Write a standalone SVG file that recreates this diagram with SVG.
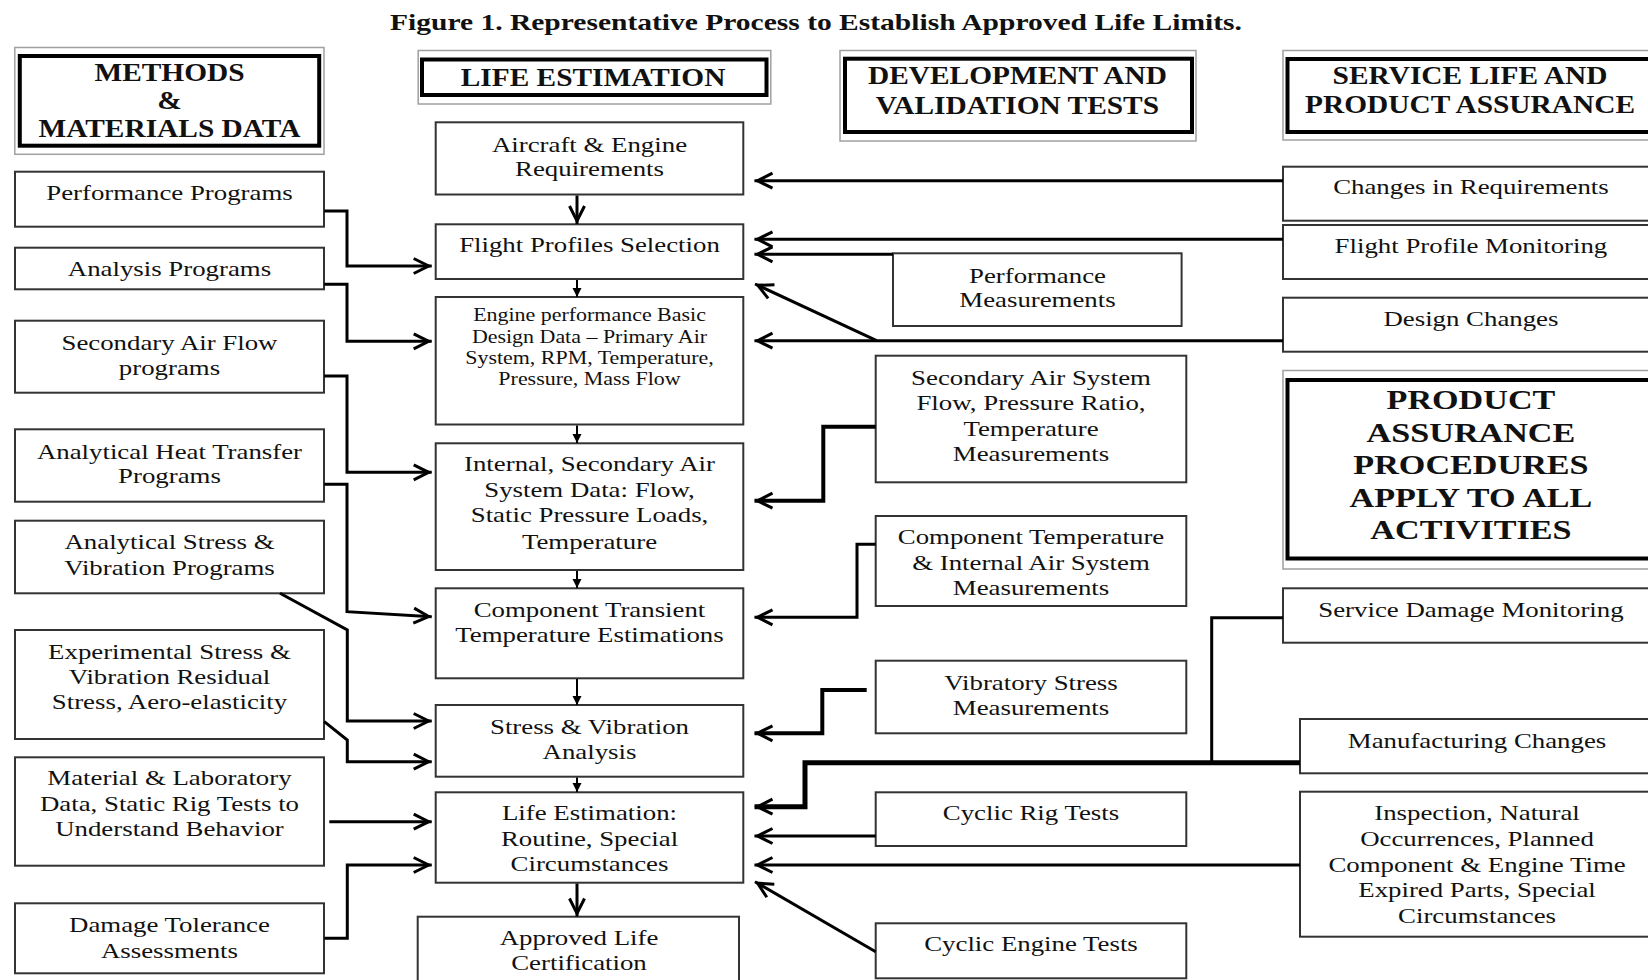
<svg xmlns="http://www.w3.org/2000/svg" width="1648" height="980" viewBox="0 0 1648 980">
<style>
.box{fill:#fff;stroke:#333;stroke-width:2}
.hout{fill:#fff;stroke:#a0a0a0;stroke-width:1.5}
.hin{fill:none;stroke:#000;stroke-width:4}
.c{fill:none;stroke:#000;stroke-width:3;stroke-linejoin:miter}
.c4{stroke-width:4}
.c5{stroke-width:5}
.d{fill:none;stroke:#000;stroke-width:2}
.t{font-family:"Liberation Serif","Times New Roman",serif;fill:#111;text-anchor:middle;transform-origin:0 0;transform-box:view-box}
.b22{font-size:22px;transform:scaleX(1.22)}
.s18{font-size:18px;transform:scaleX(1.22)}
.h26{font-size:26px;font-weight:bold;transform:scaleX(1.13)}
.p28{font-size:28px;font-weight:bold;transform:scaleX(1.22)}
.ti{font-size:24px;font-weight:bold;transform:scaleX(1.23)}
</style>
<defs>
<marker id="arr" markerUnits="userSpaceOnUse" viewBox="-22 -12 24 24" markerWidth="24" markerHeight="24" refX="0" refY="0" orient="auto" overflow="visible">
<path d="M-18,-7.5 L-3,0 L-18,7.5" fill="none" stroke="#000" stroke-width="3"/>
</marker>
<marker id="sm" markerUnits="userSpaceOnUse" viewBox="-10 -6 12 12" markerWidth="12" markerHeight="12" refX="0" refY="0" orient="auto" overflow="visible">
<path d="M-9,-4.5 L0,0 L-9,4.5 Z" fill="#000"/>
</marker>
</defs>
<rect x="0" y="0" width="1648" height="980" fill="#fff"/>

<text id="title" class="t ti" x="663.4" y="30">Figure 1. Representative Process to Establish Approved Life Limits.</text>

<!-- Headers -->
<g id="hdr-methods">
<rect class="hout" x="14.8" y="47.5" width="309.2" height="106.8"/>
<rect class="hin" x="19.8" y="56" width="299.4" height="89.7"/>
<text class="t h26" x="150" y="81.5">METHODS</text>
<text class="t h26" x="150" y="109.5">&amp;</text>
<text class="t h26" x="150" y="137.3">MATERIALS DATA</text>
</g>
<g id="hdr-life">
<rect class="hout" x="418.2" y="50.5" width="352.6" height="53.5"/>
<rect class="hin" x="422" y="59.5" width="344.5" height="35.5"/>
<text class="t h26" x="524.8" y="86">LIFE ESTIMATION</text>
</g>
<g id="hdr-dev">
<rect class="hout" x="840" y="50.5" width="356" height="90.5"/>
<rect class="hin" x="845" y="58.7" width="347" height="73.3"/>
<text class="t h26" x="900.4" y="84.3">DEVELOPMENT AND</text>
<text class="t h26" x="900.4" y="114">VALIDATION TESTS</text>
</g>
<g id="hdr-service">
<rect class="hout" x="1283" y="50.5" width="380" height="89.5"/>
<rect class="hin" x="1287.5" y="59" width="380" height="73"/>
<text class="t h26" x="1300.9" y="84.3">SERVICE LIFE AND</text>
<text class="t h26" x="1300.9" y="113.3">PRODUCT ASSURANCE</text>
</g>
<g id="product-assurance">
<rect class="hout" x="1283" y="370.5" width="380" height="198.5"/>
<rect class="hin" x="1287.5" y="380" width="380" height="178.5"/>
<text class="t p28" x="1205.7" y="409.3">PRODUCT</text>
<text class="t p28" x="1205.7" y="442">ASSURANCE</text>
<text class="t p28" x="1205.7" y="474.3">PROCEDURES</text>
<text class="t p28" x="1205.7" y="507">APPLY TO ALL</text>
<text class="t p28" x="1205.7" y="539.3">ACTIVITIES</text>
</g>

<!-- Left column -->
<g id="performance-programs">
<rect class="box" x="15" y="171.7" width="309" height="55"/>
<text class="t b22" x="138.93" y="200">Performance Programs</text>
</g>
<g id="analysis-programs">
<rect class="box" x="15" y="247.7" width="309" height="41.6"/>
<text class="t b22" x="138.93" y="276">Analysis Programs</text>
</g>
<g id="secondary-air-flow-programs">
<rect class="box" x="15" y="320.7" width="309" height="72"/>
<text class="t b22" x="138.93" y="350">Secondary Air Flow</text>
<text class="t b22" x="138.93" y="375.5">programs</text>
</g>
<g id="heat-transfer-programs">
<rect class="box" x="15" y="429.3" width="309" height="72.4"/>
<text class="t b22" x="138.93" y="459">Analytical Heat Transfer</text>
<text class="t b22" x="138.93" y="483">Programs</text>
</g>
<g id="stress-vibration-programs">
<rect class="box" x="15" y="520.7" width="309" height="72.6"/>
<text class="t b22" x="138.93" y="549">Analytical Stress &amp;</text>
<text class="t b22" x="138.93" y="575">Vibration Programs</text>
</g>
<g id="experimental-stress">
<rect class="box" x="15" y="630" width="309" height="109"/>
<text class="t b22" x="138.93" y="659">Experimental Stress &amp;</text>
<text class="t b22" x="138.93" y="684">Vibration Residual</text>
<text class="t b22" x="138.93" y="709">Stress, Aero-elasticity</text>
</g>
<g id="material-laboratory">
<rect class="box" x="15" y="757.3" width="309" height="108.4"/>
<text class="t b22" x="138.93" y="785">Material &amp; Laboratory</text>
<text class="t b22" x="138.93" y="811">Data, Static Rig Tests to</text>
<text class="t b22" x="138.93" y="836">Understand Behavior</text>
</g>
<g id="damage-tolerance">
<rect class="box" x="15" y="903.3" width="309" height="70"/>
<text class="t b22" x="138.93" y="932">Damage Tolerance</text>
<text class="t b22" x="138.93" y="958">Assessments</text>
</g>

<!-- Centre column -->
<g id="aircraft-engine-req">
<rect class="box" x="435.7" y="122.3" width="307.6" height="72.2"/>
<text class="t b22" x="483.2" y="152">Aircraft &amp; Engine</text>
<text class="t b22" x="483.2" y="176">Requirements</text>
</g>
<g id="flight-profiles-selection">
<rect class="box" x="435.7" y="224.3" width="307.6" height="54.7"/>
<text class="t b22" x="483.2" y="252.3">Flight Profiles Selection</text>
</g>
<g id="engine-performance">
<rect class="box" x="435.7" y="297" width="307.6" height="127.5"/>
<text class="t s18" x="483.2" y="321.5">Engine performance Basic</text>
<text class="t s18" x="483.2" y="343">Design Data – Primary Air</text>
<text class="t s18" x="483.2" y="364">System, RPM, Temperature,</text>
<text class="t s18" x="483.2" y="385">Pressure, Mass Flow</text>
</g>
<g id="internal-secondary-air">
<rect class="box" x="435.7" y="443.3" width="307.6" height="126.7"/>
<text class="t b22" x="483.2" y="471">Internal, Secondary Air</text>
<text class="t b22" x="483.2" y="497">System Data: Flow,</text>
<text class="t b22" x="483.2" y="522">Static Pressure Loads,</text>
<text class="t b22" x="483.2" y="549">Temperature</text>
</g>
<g id="component-transient">
<rect class="box" x="435.7" y="588.3" width="307.6" height="90"/>
<text class="t b22" x="483.2" y="617">Component Transient</text>
<text class="t b22" x="483.2" y="642">Temperature Estimations</text>
</g>
<g id="stress-vibration-analysis">
<rect class="box" x="435.7" y="705" width="307.6" height="71.7"/>
<text class="t b22" x="483.2" y="734">Stress &amp; Vibration</text>
<text class="t b22" x="483.2" y="759">Analysis</text>
</g>
<g id="life-estimation">
<rect class="box" x="435.7" y="792.3" width="307.6" height="90.4"/>
<text class="t b22" x="483.2" y="820">Life Estimation:</text>
<text class="t b22" x="483.2" y="846">Routine, Special</text>
<text class="t b22" x="483.2" y="871">Circumstances</text>
</g>
<g id="approved-life">
<rect class="box" x="417.7" y="916.7" width="321.3" height="70"/>
<text class="t b22" x="474.6" y="945">Approved Life</text>
<text class="t b22" x="474.6" y="970">Certification</text>
</g>

<!-- Development column -->
<g id="performance-measurements">
<rect class="box" x="893" y="253.3" width="288.6" height="72.7"/>
<text class="t b22" x="850.4" y="283">Performance</text>
<text class="t b22" x="850.4" y="307">Measurements</text>
</g>
<g id="secondary-air-system-meas">
<rect class="box" x="875.7" y="355.7" width="310.6" height="126.6"/>
<text class="t b22" x="845.08" y="385">Secondary Air System</text>
<text class="t b22" x="845.08" y="410">Flow, Pressure Ratio,</text>
<text class="t b22" x="845.08" y="436">Temperature</text>
<text class="t b22" x="845.08" y="461">Measurements</text>
</g>
<g id="component-temperature-meas">
<rect class="box" x="875.7" y="516" width="310.6" height="90"/>
<text class="t b22" x="845.08" y="544">Component Temperature</text>
<text class="t b22" x="845.08" y="570">&amp; Internal Air System</text>
<text class="t b22" x="845.08" y="595">Measurements</text>
</g>
<g id="vibratory-stress-meas">
<rect class="box" x="875.7" y="660.7" width="310.6" height="72.6"/>
<text class="t b22" x="845.08" y="690">Vibratory Stress</text>
<text class="t b22" x="845.08" y="715">Measurements</text>
</g>
<g id="cyclic-rig-tests">
<rect class="box" x="875.7" y="792.3" width="310.6" height="53.7"/>
<text class="t b22" x="845.08" y="820">Cyclic Rig Tests</text>
</g>
<g id="cyclic-engine-tests">
<rect class="box" x="875.7" y="923.3" width="310.6" height="55"/>
<text class="t b22" x="845.08" y="951">Cyclic Engine Tests</text>
</g>

<!-- Service column -->
<g id="changes-in-requirements">
<rect class="box" x="1283" y="166.7" width="380" height="54"/>
<text class="t b22" x="1205.7" y="194">Changes in Requirements</text>
</g>
<g id="flight-profile-monitoring">
<rect class="box" x="1283" y="225" width="380" height="54"/>
<text class="t b22" x="1205.7" y="253">Flight Profile Monitoring</text>
</g>
<g id="design-changes">
<rect class="box" x="1283" y="297.7" width="380" height="54"/>
<text class="t b22" x="1205.7" y="326">Design Changes</text>
</g>
<g id="service-damage-monitoring">
<rect class="box" x="1283" y="588.3" width="380" height="54.4"/>
<text class="t b22" x="1205.7" y="617">Service Damage Monitoring</text>
</g>
<g id="manufacturing-changes">
<rect class="box" x="1300" y="719" width="380" height="54.3"/>
<text class="t b22" x="1210.7" y="748">Manufacturing Changes</text>
</g>
<g id="inspection">
<rect class="box" x="1300" y="791.7" width="380" height="145"/>
<text class="t b22" x="1210.7" y="820">Inspection, Natural</text>
<text class="t b22" x="1210.7" y="846">Occurrences, Planned</text>
<text class="t b22" x="1210.7" y="872">Component &amp; Engine Time</text>
<text class="t b22" x="1210.7" y="897">Expired Parts, Special</text>
<text class="t b22" x="1210.7" y="923">Circumstances</text>
</g>

<!-- Connectors -->
<g id="connectors">
<path class="c" marker-end="url(#arr)" d="M577,195.5 V224"/>
<path class="d" marker-end="url(#sm)" d="M577,280 V297"/>
<path class="d" marker-end="url(#sm)" d="M577,425.5 V443"/>
<path class="d" marker-end="url(#sm)" d="M577,571 V588"/>
<path class="d" marker-end="url(#sm)" d="M577,679 V705"/>
<path class="d" marker-end="url(#sm)" d="M577,777.5 V792"/>
<path class="c" marker-end="url(#arr)" d="M577,883.5 V916.5"/>

<path class="c" marker-end="url(#arr)" d="M324.3,211 H347 V266 H431.7"/>
<path class="c" marker-end="url(#arr)" d="M324.3,284.3 H347 V341.3 H431.7"/>
<path class="c" marker-end="url(#arr)" d="M324.3,376 H347 V472.3 H431.7"/>
<path class="c" marker-end="url(#arr)" d="M324.3,484.3 H347 V611.7 L431.7,616.7"/>
<path class="c" marker-end="url(#arr)" d="M280,593.3 L347.3,630 V721 H431.7"/>
<path class="c" marker-end="url(#arr)" d="M324.3,721.7 L347.3,740 V761.7 H431.7"/>
<path class="c" marker-end="url(#arr)" d="M329.3,821.7 H431.7"/>
<path class="c" marker-end="url(#arr)" d="M324.3,938.3 H347.3 V865 H431.7"/>

<path class="c" marker-end="url(#arr)" d="M1283,180.7 H754.5"/>
<path class="c" marker-end="url(#arr)" d="M1283,239.3 H754.5"/>
<path class="c" marker-end="url(#arr)" d="M893,254.3 H754.5"/>
<path class="c" marker-end="url(#arr)" d="M1283,340.7 H754.5"/>
<path class="c" marker-end="url(#arr)" d="M876.7,340.7 L755,284"/>
<path class="c c4" marker-end="url(#arr)" d="M875.7,426.7 H823.3 V500.7 H754.5"/>
<path class="c" marker-end="url(#arr)" d="M875.7,544.3 H857 V617.3 H754.5"/>
<path class="c c4" marker-end="url(#arr)" d="M866.7,690 H822.3 V733.3 H754.5"/>
<path class="c" d="M1283,617.7 H1211.7 V762.7"/>
<path class="c c5" marker-end="url(#arr)" d="M1300,762.7 H805 V806.7 H754.5"/>
<path class="c" marker-end="url(#arr)" d="M875.7,836 H754.5"/>
<path class="c" marker-end="url(#arr)" d="M1300,865 H754.5"/>
<path class="c" marker-end="url(#arr)" d="M875.7,951.7 L755,881.7"/>
</g>
</svg>
